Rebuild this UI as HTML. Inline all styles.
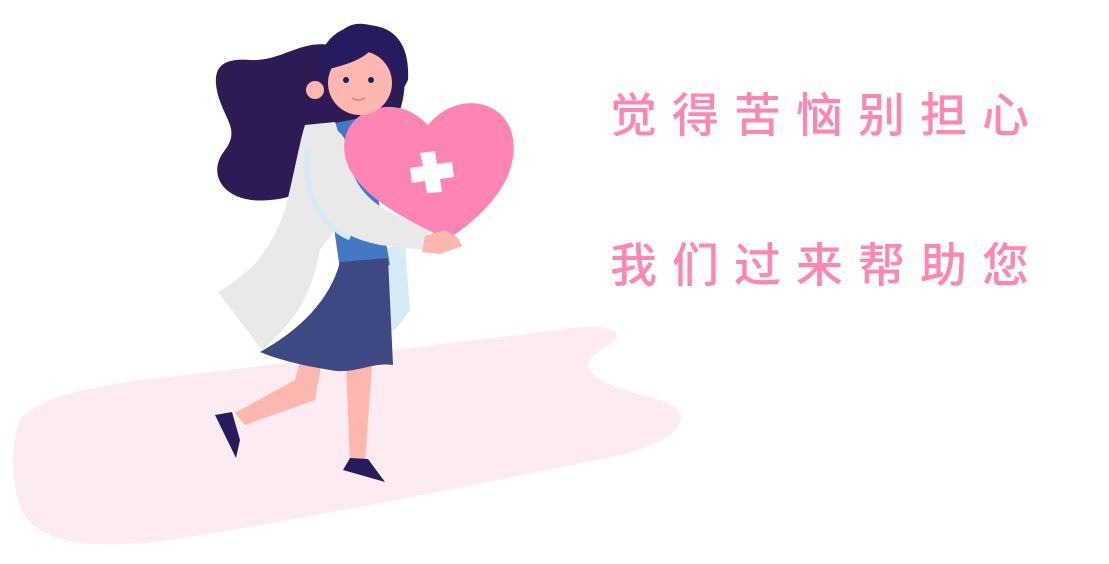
<!DOCTYPE html>
<html><head><meta charset="utf-8"><style>
html,body{margin:0;padding:0;background:#fff;width:1109px;height:564px;overflow:hidden}
svg{position:absolute;left:0;top:0}
.t{position:absolute;left:610px;font-family:"Liberation Sans","Noto Sans CJK SC",sans-serif;font-size:47px;font-weight:500;color:#ff85b5;letter-spacing:15px;white-space:nowrap}
</style></head><body>
<svg width="1109" height="564">
<path fill="#fdebf2" d="M20,420 C40,395 100,385 160,378 L560,330 C600,322 640,330 600,350 C570,370 600,385 660,400 C700,415 680,440 620,455 C500,480 300,520 170,540 C90,550 30,545 18,500 C10,470 12,440 20,420Z"/>
<path fill="#2e1a55" d="M330,45 C300,40 280,62 250,60 C225,58 210,65 218,95 C225,120 240,130 225,150 C205,175 225,205 270,200 C300,198 310,185 320,170 L400,110 C410,80 405,40 370,25 C350,20 340,30 330,45Z"/>
<path fill="#fdb7ae" d="M300,360 L322,360 L315,400 L245,425 L235,413 L295,380Z"/>
<path fill="#fdb7ae" d="M346,365 L372,365 L365,462 L350,462Z"/>
<path fill="#271b5e" d="M215,415 L232,412 L240,440 L236,458 Z"/>
<path fill="#271b5e" d="M350,458 L368,459 L385,482 L343,470Z"/>
<path fill="#d4eaf4" d="M370,250 L405,245 L410,310 L395,330 L375,330Z"/>
<path fill="#4379c4" d="M325,125 L360,118 L375,180 L390,265 L340,270 L330,200Z"/>
<path fill="#3e4984" d="M340,262 L388,258 L393,365 C370,362 355,375 330,370 C300,365 280,360 260,352 C300,330 330,300 340,262Z"/>
<path fill="#e9e9ea" d="M305,125 L335,122 C345,150 345,180 350,210 L320,250 C310,300 295,320 262,350 L218,292 C255,270 270,250 285,210 C295,170 300,140 305,125Z"/>
<path fill="#e9e9ea" d="M310,130 C330,122 345,130 348,150 C350,180 365,200 395,215 L430,228 L425,250 L380,245 C345,238 320,220 310,200Z"/>
<path fill="none" stroke="#d4eaf4" stroke-width="5" d="M308,150 C302,190 320,225 350,238"/>
<path fill="#ff84b6" d="M447,240 C420,225 370,205 350,170 C335,140 350,110 385,107 C405,106 418,115 428,125 C440,110 460,100 480,104 C510,110 520,140 510,170 C500,200 470,225 447,240Z"/>
<path fill="#fff" d="M420,153 L435,151 L437,164 L452,162 L454,177 L440,179 L442,192 L427,193 L425,181 L412,183 L410,168 L423,166Z"/>
<path fill="#fdb7ae" d="M425,236 L445,230 L458,238 L462,246 L440,254 L422,252Z"/>
<circle cx="360" cy="83" r="32" fill="#fdb7ae"/>
<circle cx="315" cy="90" r="9" fill="#fdb7ae"/>
<path fill="#251c5e" d="M318,70 C320,40 340,25 365,25 C395,25 410,45 408,80 L400,95 C398,70 392,55 375,45 C365,60 345,65 325,70 L322,85Z"/>
<circle cx="346" cy="80" r="3" fill="#251c5e"/>
<circle cx="371" cy="80" r="3" fill="#251c5e"/>
<path d="M352,98 Q358,102 365,98" stroke="#e58a8a" stroke-width="2" fill="none"/>
</svg>
<div class="t" style="top:77px">觉得苦恼别担心</div>
<div class="t" style="top:227px">我们过来帮助您</div>
</body></html>
